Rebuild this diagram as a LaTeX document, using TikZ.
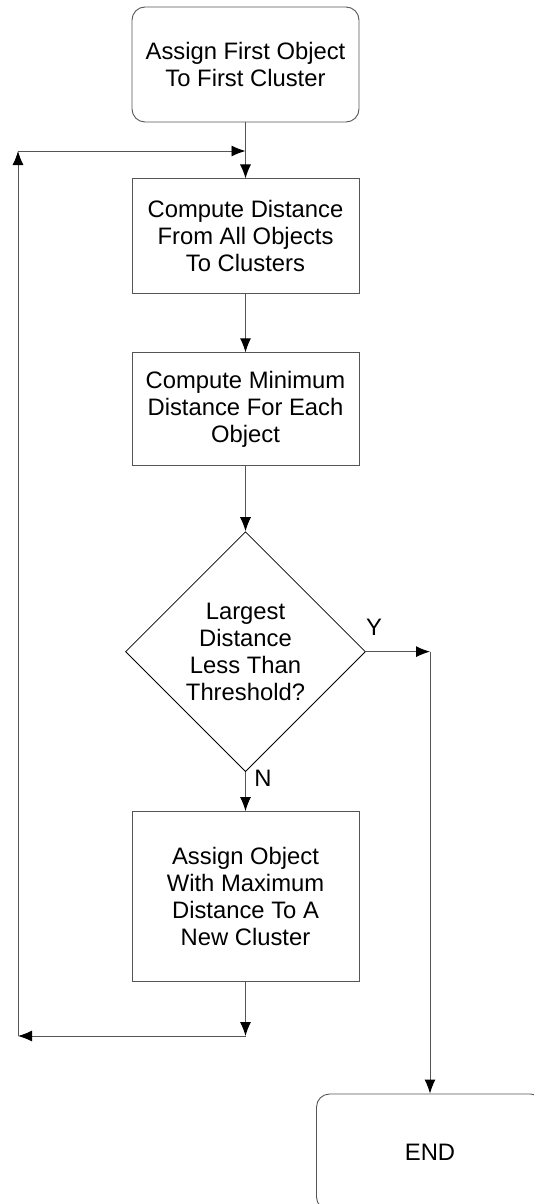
\documentclass[tikz,border=0pt]{standalone}
\usepackage{fontspec}
\setmainfont{Liberation Sans}
\usetikzlibrary{positioning,arrows.meta,shapes.geometric}
\definecolor{LineGray}{RGB}{85,85,85}

\begin{document}
\begin{tikzpicture}[x=1pt,y=-1pt,
      >={Latex[length=14pt,width=11pt,color=black]},
      proc/.style={draw=LineGray,line width=0.9pt,minimum width=227pt,inner sep=0pt,
                   align=center,font=\fontsize{23.8}{27}\selectfont},
      term/.style={proc,rounded corners=13pt},
      decision/.style={draw=black,line width=0.8pt,shape=diamond,minimum width=240pt,
                   minimum height=240pt,inner sep=0pt,align=center,font=\fontsize{23.8}{27}\selectfont},
      lbl/.style={font=\fontsize{23.8}{27}\selectfont,inner sep=0pt},
      arrow/.style={->,line width=0.9pt,draw=LineGray}]
    \useasboundingbox (0,0) rectangle (534,1204);
    \clip (0,0) rectangle (534,1204);
    \node[term,minimum height=115pt] (first) at (245.5,64.5) {Assign First Object\\To First Cluster};
    \node[proc,minimum height=115pt,below=56pt of first] (dist) {Compute Distance\\From All Objects\\To Clusters};
    \node[proc,minimum height=113pt,below=58pt of dist] (mindist) {Compute Minimum\\Distance For Each\\Object};
    \node[decision,below=65pt of mindist] (largest) {Largest\\Distance\\Less Than\\Threshold?};
    \node[proc,minimum height=170pt,below=39pt of largest] (newclus) {Assign Object\\With Maximum\\Distance To A\\New Cluster};
    \node[term,minimum height=116pt] (finish) at (430,1152) {END};
    % loop back
    \coordinate (back1) at (newclus.south |- 0,1036);
    \coordinate (back2) at (18,1036);
    \coordinate (back3) at (18,151);
    \coordinate (back4) at (first.south |- 0,151);
    \coordinate (yes) at (finish.north |- largest.east);
    \node[lbl] (ylab) at (374,627) {Y};
    \node[lbl] (nlab) at (263,778) {N};
    \draw[arrow] (first) -- (dist);
    \draw[arrow] (dist) -- (mindist);
    \draw[arrow] (mindist) -- (largest);
    \draw[arrow] (largest.south) -- (newclus);
    \draw[arrow] (largest.east) -- (yes);
    \draw[arrow] (yes) -- (finish.north);
    \foreach \a/\b in {newclus.south/back1,back1/back2,back2/back3,back3/back4} \draw[arrow] (\a) -- (\b);
  \end{tikzpicture}
\end{document}
